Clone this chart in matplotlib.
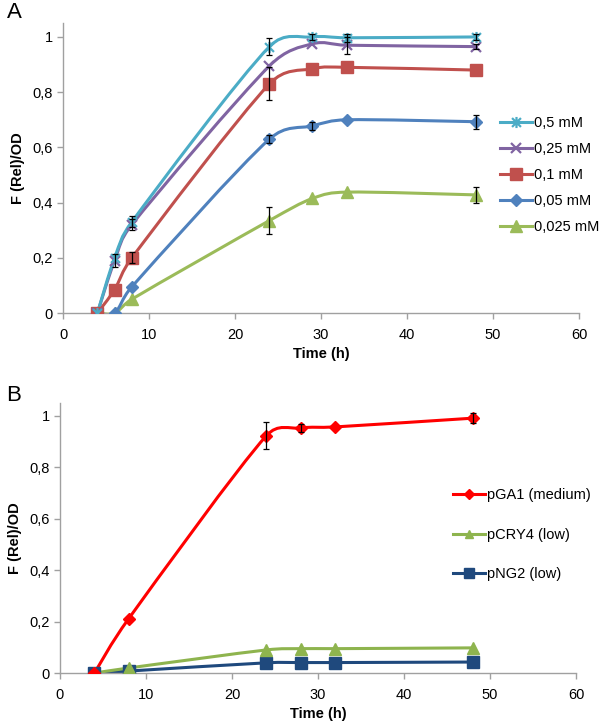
import numpy as np
import matplotlib
matplotlib.use("Agg")
import matplotlib.pyplot as plt
from matplotlib.path import Path
from matplotlib.patches import PathPatch
from matplotlib.lines import Line2D
from matplotlib.ticker import FuncFormatter

plt.rcParams['font.family'] = ['Liberation Sans', 'DejaVu Sans']
plt.rcParams['font.size'] = 10.5

# ---------------- Panel A data ----------------
time_a = [4, 6, 8, 24, 29, 33, 48]
labels_a = ['0,5 mM', '0,25 mM', '0,1 mM', '0,05 mM', '0,025 mM']
y_05 = [0.0, 0.20, 0.33, 0.965, 1.0, 0.997, 1.0]
y_025 = [0.0, 0.19, 0.32, 0.895, 0.975, 0.97, 0.965]
y_01 = [0.0, 0.085, 0.20, 0.83, 0.885, 0.89, 0.88]
y_005 = [0.0, 0.0, 0.095, 0.63, 0.678, 0.70, 0.693]
y_0025 = [0.0, 0.0, 0.05, 0.335, 0.415, 0.438, 0.428]
e_05 = [0, 0, 0.02, 0.03, 0.012, 0.015, 0.01]
e_025 = [0, 0.025, 0.02, 0.0, 0.0, 0.03, 0.008]
e_01 = [0, 0, 0.02, 0.06, 0.0, 0.0, 0.0]
e_005 = [0, 0, 0, 0.015, 0.015, 0.0, 0.025]
e_0025 = [0, 0, 0, 0.05, 0.0, 0.0, 0.03]

# ---------------- Panel B data ----------------
time_b = [4, 8, 24, 28, 32, 48]
labels_b = ['pGA1 (medium)', 'pCRY4 (low)', 'pNG2 (low)']
y_pga1 = [0.0, 0.212, 0.922, 0.952, 0.956, 0.99]
y_pcry4 = [0.0, 0.02, 0.09, 0.095, 0.095, 0.098]
y_png2 = [0.0, 0.008, 0.04, 0.041, 0.041, 0.043]
e_pga1 = [0, 0, 0.053, 0.015, 0.0, 0.02]
e_pcry4 = [0, 0, 0, 0, 0, 0]
e_png2 = [0, 0, 0, 0, 0, 0]

xticks = [0, 10, 20, 30, 40, 50, 60]
yticks = [0, 0.2, 0.4, 0.6, 0.8, 1.0]

star = Path([(0, -1), (0, 1), (-0.8, -0.8), (0.8, 0.8), (-0.8, 0.8), (0.8, -0.8)],
            [Path.MOVETO, Path.LINETO, Path.MOVETO, Path.LINETO, Path.MOVETO, Path.LINETO])


def smooth_path(ax, xs, ys):
    pts = ax.transData.transform(np.column_stack([xs, ys]))
    n = len(pts)
    verts = [pts[0]]
    codes = [Path.MOVETO]
    for i in range(n - 1):
        p0 = pts[i - 1] if i > 0 else pts[i]
        p1 = pts[i]
        p2 = pts[i + 1]
        p3 = pts[i + 2] if i + 2 < n else pts[i + 1]
        seg = np.hypot(*(p2 - p1))
        a1 = (p2 - p0) / 6.0
        a2 = (p3 - p1) / 6.0
        lim = 0.5 * seg
        for a in (a1, a2):
            l = np.hypot(*a)
            if l > lim and l > 0:
                a *= lim / l
        verts += [p1 + a1, p2 - a2, p2]
        codes += [Path.CURVE4] * 3
    inv = ax.transData.inverted()
    return Path(inv.transform(np.array(verts)), codes)


def style_axes(ax):
    ax.set_xlim(0, 60)
    ax.set_ylim(0, 1.05)
    ax.set_xticks(xticks)
    ax.set_yticks(yticks)
    ax.yaxis.set_major_formatter(FuncFormatter(lambda v, p: ('%g' % round(v, 2)).replace('.', ',')))
    for s in ['top', 'right']:
        ax.spines[s].set_visible(False)
    for s in ['left', 'bottom']:
        ax.spines[s].set_color('#a0a0a0')
        ax.spines[s].set_linewidth(1.0)
    ax.tick_params(axis='both', colors='#a0a0a0', labelcolor='black', length=4, width=1.0,
                   direction='out', labelsize=10.5)
    ax.tick_params(axis='x', pad=7)
    ax.set_xlabel('Time (h)', fontweight='bold', fontsize=10.5, labelpad=3)
    ax.set_ylabel('F (Rel)/OD', fontweight='bold', fontsize=10.5, labelpad=5.5)


fig = plt.figure(figsize=(6.0, 7.23), dpi=100)
axA = fig.add_axes([0.105, 0.567, 0.86, 0.401])
axB = fig.add_axes([0.100, 0.069, 0.86, 0.374])
style_axes(axA)
style_axes(axB)

series_a = [
    (y_05, e_05, '#4BACC6', star, 8, 1.6),
    (y_025, e_025, '#8064A2', 'x', 7, 1.6),
    (y_01, e_01, '#C0504D', 's', 8, 1),
    (y_005, e_005, '#4F81BD', 'D', 6.5, 1),
    (y_0025, e_0025, '#9BBB59', '^', 8, 1),
]
handles_a = []
for (ys, es, col, mk, ms, mew), lab in zip(series_a[::-1], labels_a[::-1]):
    p = smooth_path(axA, time_a, ys)
    axA.add_patch(PathPatch(p, facecolor='none', edgecolor=col, lw=2.2, zorder=2))
for (ys, es, col, mk, ms, mew), lab in zip(series_a[::-1], labels_a[::-1]):
    axA.plot(time_a, ys, linestyle='none', marker=mk, ms=ms, color=col, mec=col, mew=mew, zorder=3)
    idx = [i for i, e in enumerate(es) if e > 0]
    axA.errorbar([time_a[i] for i in idx], [ys[i] for i in idx], yerr=[es[i] for i in idx],
                 fmt='none', ecolor='black', elinewidth=0.9, capsize=2.5, capthick=0.9, zorder=4)
for (ys, es, col, mk, ms, mew), lab in zip(series_a, labels_a):
    handles_a.append(Line2D([], [], color=col, lw=2.2, marker=mk, ms=ms, mec=col, mew=mew, label=lab))
axA.legend(handles=handles_a, loc='upper left', bbox_to_anchor=(0.833, 0.705), frameon=False,
           handlelength=2.2, handletextpad=0.1, labelspacing=0.82, fontsize=10.5, borderpad=0)

series_b = [
    (y_pga1, e_pga1, '#FF0000', 'D', 6.5),
    (y_pcry4, e_pcry4, '#8EB44E', '^', 8),
    (y_png2, e_png2, '#1F497D', 's', 9),
]
handles_b = []
for (ys, es, col, mk, ms), lab in zip(series_b[::-1], labels_b[::-1]):
    p = smooth_path(axB, time_b, ys)
    axB.add_patch(PathPatch(p, facecolor='none', edgecolor=col, lw=2.2, zorder=2))
    axB.plot(time_b, ys, linestyle='none', marker=mk, ms=ms, color=col, mec=col, zorder=3)
    idx = [i for i, e in enumerate(es) if e > 0]
    if idx:
        axB.errorbar([time_b[i] for i in idx], [ys[i] for i in idx], yerr=[es[i] for i in idx],
                     fmt='none', ecolor='black', elinewidth=0.9, capsize=2.5, capthick=0.9, zorder=4)
for (ys, es, col, mk, ms), lab in zip(series_b, labels_b):
    handles_b.append(Line2D([], [], color=col, lw=2.2, marker=mk, ms=ms * 0.8, mec=col, label=lab))
axB.legend(handles=handles_b, loc='upper left', bbox_to_anchor=(0.748, 0.71), frameon=False,
           handlelength=2.2, handletextpad=0.1, labelspacing=1.75, fontsize=10.5, borderpad=0)

fig.text(0.012, 0.997, 'A', fontsize=16, va='top', ha='left')
fig.text(0.010, 0.467, 'B', fontsize=16, va='top', ha='left')

fig.savefig('out.png', dpi=100)
